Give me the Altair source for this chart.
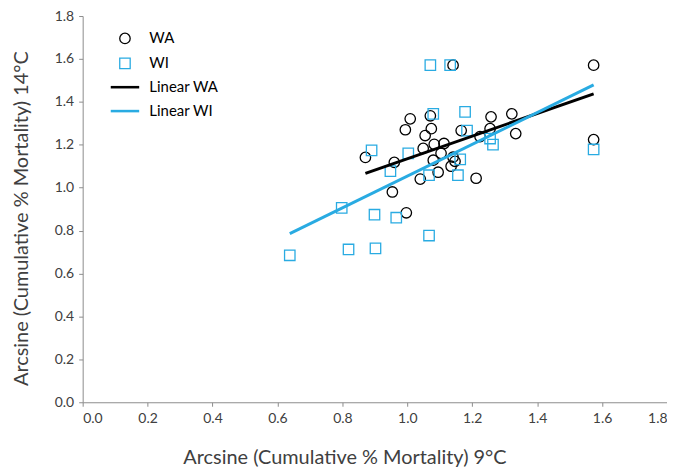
import altair as alt
import pandas as pd

# ---- data ----
wa_x = [1.141, 1.574, 1.574, 0.871, 0.960, 0.954, 0.997, 1.009, 0.994, 1.055,
        1.071, 1.074, 1.049, 1.083, 1.113, 1.104, 1.080, 1.040, 1.095, 1.141,
        1.147, 1.135, 1.166, 1.212, 1.258, 1.255, 1.224, 1.322, 1.334]
wa_y = [1.571, 1.571, 1.224, 1.141, 1.118, 0.980, 0.883, 1.321, 1.270, 1.243,
        1.335, 1.275, 1.183, 1.202, 1.206, 1.160, 1.128, 1.040, 1.072, 1.142,
        1.123, 1.100, 1.266, 1.044, 1.330, 1.275, 1.238, 1.344, 1.252]

wi_x = [1.071, 1.132, 1.080, 1.178, 1.184, 1.255, 1.264, 1.574, 0.890, 1.003,
        0.948, 1.067, 1.156, 1.163, 0.798, 0.899, 0.966, 1.067, 0.638, 0.819,
        0.902]
wi_y = [1.571, 1.571, 1.344, 1.353, 1.266, 1.229, 1.201, 1.178, 1.174, 1.160,
        1.077, 1.058, 1.058, 1.132, 0.906, 0.874, 0.860, 0.777, 0.685, 0.712,
        0.717]

# fitted trend lines (end points)
fit_wa_x = [0.871, 1.574]
fit_wa_y = [1.067, 1.437]
fit_wi_x = [0.638, 1.574]
fit_wi_y = [0.786, 1.479]

series_names = ["WA", "WI", "Linear WA", "Linear WI"]
ticks = [0, 0.2, 0.4, 0.6, 0.8, 1.0, 1.2, 1.4, 1.6, 1.8]

# ---- tables ----
pts = pd.DataFrame({
    "series": ["WA"] * len(wa_x) + ["WI"] * len(wi_x),
    "x": wa_x + wi_x,
    "y": wa_y + wi_y,
})
lines = pd.DataFrame({
    "series": ["Linear WA"] * 2 + ["Linear WI"] * 2,
    "x": fit_wa_x + fit_wi_x,
    "y": fit_wa_y + fit_wi_y,
})

BLUE = "#29abe2"
bar_path = "M-2.6,-0.12L2.6,-0.12L2.6,0.12L-2.6,0.12Z"
color_scale = alt.Scale(domain=series_names, range=["#000000", BLUE, "#000000", BLUE])
shape_scale = alt.Scale(domain=series_names, range=["circle", "square", bar_path, bar_path])

FONT = "Lato"
legend = alt.Legend(
    title=None, orient="none", legendX=35, legendY=15, padding=0,
    labelFont=FONT, labelFontSize=15, labelColor="#000000",
    symbolSize=110, symbolStrokeWidth=1.3, labelOffset=17, rowPadding=8,
)

x_enc = alt.X("x:Q", scale=alt.Scale(domain=[0, 1.8], nice=False),
              axis=alt.Axis(values=ticks, format=".1f", grid=False,
                            domainColor="#8c8c8c", tickColor="#8c8c8c", tickSize=4,
                            labelFont=FONT, labelFontSize=14, labelColor="#404040",
                            labelPadding=5,
                            title="Arcsine (Cumulative % Mortality) 9°C",
                            titleFont=FONT, titleFontSize=20, titleFontWeight="normal",
                            titleColor="#404040", titleX=263, titleY=56,
                            titleBaseline="middle", titleAlign="center"))
y_enc = alt.Y("y:Q", scale=alt.Scale(domain=[0, 1.8], nice=False),
              axis=alt.Axis(values=ticks, format=".1f", grid=False,
                            domainColor="#8c8c8c", tickColor="#8c8c8c", tickSize=4,
                            labelFont=FONT, labelFontSize=14, labelColor="#404040",
                            labelPadding=5,
                            title="Arcsine (Cumulative % Mortality) 14°C",
                            titleFont=FONT, titleFontSize=20, titleFontWeight="normal",
                            titleColor="#404040", titleX=-61, titleY=203,
                            titleBaseline="middle", titleAlign="center", titleAngle=270))

points = alt.Chart(pts).mark_point(filled=False, size=110, strokeWidth=1.3, opacity=1).encode(
    x=x_enc, y=y_enc,
    color=alt.Color("series:N", scale=color_scale, legend=legend),
    shape=alt.Shape("series:N", scale=shape_scale, legend=legend),
)

trend = alt.Chart(lines).mark_line(strokeWidth=3).encode(
    x="x:Q", y="y:Q",
    color=alt.Color("series:N", scale=color_scale, legend=None),
)

chart = alt.layer(points, trend).properties(
    width=587, height=388,
    padding={"left": 75, "top": 7, "right": 0, "bottom": 70},
    autosize=alt.AutoSizeParams(type="none"),
).configure_view(stroke=None)

chart.save("out.html", embed_options={"renderer": "svg", "actions": False})
